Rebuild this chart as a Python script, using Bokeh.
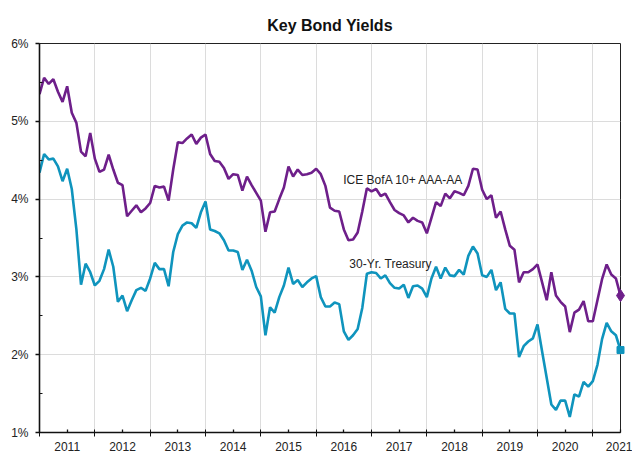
import pandas as pd
from bokeh.plotting import figure
from bokeh.models import FixedTicker, PrintfTickFormatter, Label, Range1d, ColumnDataSource
from bokeh.embed import file_html
from bokeh.resources import INLINE

# Monthly yields (%), Jan 2011 .. Jul 2021
start_month = "2011-01-01"
ice_bofa_10plus_aaa_aa = [
    5.35, 5.56, 5.48, 5.54, 5.38, 5.25, 5.45, 5.11, 4.98, 4.61, 4.55, 4.85,
    4.52, 4.35, 4.38, 4.57, 4.38, 4.21, 4.18, 3.78, 3.85, 3.92, 3.83, 3.88,
    3.95, 4.17, 4.15, 4.16, 3.98, 4.38, 4.73, 4.72, 4.78, 4.83, 4.71, 4.79,
    4.83, 4.58, 4.49, 4.48, 4.40, 4.26, 4.32, 4.31, 4.11, 4.29, 4.18, 4.08,
    3.98, 3.58, 3.83, 3.84, 4.00, 4.15, 4.42, 4.29, 4.38, 4.31, 4.32, 4.34,
    4.39, 4.32, 4.17, 3.89, 3.85, 3.84, 3.61, 3.47, 3.48, 3.57, 3.84, 4.14,
    4.10, 4.13, 4.04, 4.07, 3.96, 3.86, 3.82, 3.79, 3.70, 3.76, 3.72, 3.70,
    3.56, 3.76, 3.96, 3.91, 4.07, 4.01, 4.10, 4.08, 4.05, 4.17, 4.39, 4.38,
    4.12, 4.00, 4.05, 3.76, 3.84, 3.61, 3.40, 3.35, 2.93, 3.06, 3.06, 3.10,
    3.16, 2.93, 2.70, 3.06, 2.76, 2.68, 2.62, 2.29, 2.54, 2.58, 2.69, 2.43,
    2.43, 2.70, 2.97, 3.16, 3.03, 2.98, 2.76,
]
treasury_30yr = [
    4.34, 4.58, 4.51, 4.52, 4.42, 4.23, 4.39, 4.13, 3.61, 2.90, 3.17, 3.06,
    2.89, 2.95, 3.10, 3.35, 3.13, 2.68, 2.76, 2.56, 2.70, 2.83, 2.86, 2.82,
    2.98, 3.18, 3.10, 3.10, 2.88, 3.32, 3.55, 3.66, 3.70, 3.69, 3.63, 3.83,
    3.97, 3.61, 3.59, 3.56, 3.47, 3.34, 3.34, 3.32, 3.09, 3.22, 3.08, 2.87,
    2.75, 2.25, 2.61, 2.54, 2.74, 2.89, 3.12, 2.91, 2.96, 2.87, 2.93, 2.98,
    3.01, 2.74, 2.62, 2.62, 2.67, 2.65, 2.30, 2.19, 2.25, 2.33, 2.60, 3.04,
    3.06, 3.05, 2.98, 3.02, 2.92, 2.86, 2.85, 2.90, 2.73, 2.88, 2.89, 2.85,
    2.74, 2.98, 3.13, 2.98, 3.12, 3.02, 3.01, 3.09, 3.03, 3.27, 3.39, 3.30,
    3.02, 3.00, 3.09, 2.83, 2.93, 2.59, 2.53, 2.53, 1.97, 2.11, 2.17, 2.21,
    2.39, 2.04, 1.70, 1.36, 1.29, 1.41, 1.41, 1.20, 1.49, 1.46, 1.65, 1.59,
    1.66, 1.87, 2.20, 2.41, 2.30, 2.25, 2.06,
]
year_labels = [str(y) for y in range(2011, 2022)]
y_ticks = [1, 2, 3, 4, 5, 6]

PURPLE = "#6e1f8a"
TEAL = "#0f94bd"
TEXT = "#222222"
GRID = "#dcdcdc"

dates = pd.date_range(start_month, periods=len(treasury_30yr), freq="MS")
xs = list(dates.year + (dates.month - 1) / 12.0)
src = ColumnDataSource(dict(x=xs, ice=ice_bofa_10plus_aaa_aa, tsy=treasury_30yr))
last = ColumnDataSource(dict(x=[xs[-1]], ice=[ice_bofa_10plus_aaa_aa[-1]], tsy=[treasury_30yr[-1]]))

p = figure(width=632, height=453, output_backend="svg", toolbar_location=None,
           x_range=Range1d(2011, xs[-1]), y_range=Range1d(1, 6),
           min_border_left=39, min_border_right=12, min_border_top=43, min_border_bottom=19,
           title="Key Bond Yields")
p.title.align = "center"
p.title.text_font = "Liberation Sans"
p.title.text_font_size = "16px"
p.title.text_font_style = "bold"
p.title.text_color = "#111111"
p.title.standoff = 19

p.outline_line_color = "#222222"
p.outline_line_width = 1
p.background_fill_color = "white"
p.border_fill_color = "white"

# x axis: labels at mid-year, crossing ticks at year boundaries
years = list(range(2011, 2022))
mid = [y + 0.5 for y in years]
p.xaxis.ticker = FixedTicker(ticks=mid, minor_ticks=years)
p.xaxis.major_label_overrides = {m: lab for m, lab in zip(mid, year_labels)}
p.xaxis.major_tick_in = 3
p.xaxis.major_tick_out = 0
p.xaxis.minor_tick_in = 3
p.xaxis.minor_tick_out = 4
p.xaxis.major_label_standoff = 5
p.xgrid.ticker = FixedTicker(ticks=years)

p.yaxis.ticker = FixedTicker(ticks=y_ticks, minor_ticks=[t + 0.5 for t in y_ticks[:-1]])
p.yaxis.formatter = PrintfTickFormatter(format="%d%%")
p.yaxis.major_tick_in = 0
p.yaxis.major_tick_out = 4
p.yaxis.minor_tick_in = 3
p.yaxis.minor_tick_out = 0
p.yaxis.major_label_standoff = 7

for ax in (p.xaxis, p.yaxis):
    ax.axis_line_color = "#111111"
    ax.axis_line_width = 1.6
    ax.major_tick_line_color = "#111111"
    ax.minor_tick_line_color = "#111111"
    ax.major_tick_line_width = 1.3
    ax.minor_tick_line_width = 1
    ax.major_label_text_font = "Liberation Sans"
    ax.major_label_text_font_size = "12px"
    ax.major_label_text_color = TEXT

p.grid.grid_line_color = GRID
p.grid.grid_line_width = 1

p.line("x", "ice", source=src, line_color=PURPLE, line_width=2.6)
p.line("x", "tsy", source=src, line_color=TEAL, line_width=2.6)
d = p.scatter("x", "ice", source=last, marker="diamond", size=12, fill_color=PURPLE, line_color=PURPLE)
s = p.scatter("x", "tsy", source=last, marker="square", size=7, fill_color=TEAL, line_color=TEAL)
d.level = "overlay"
s.level = "overlay"

p.add_layout(Label(x=2016.49, y=4.24, text="ICE BofA 10+ AAA-AA", text_baseline="middle",
                   text_font="Liberation Sans", text_font_size="12px", text_color=TEXT))
p.add_layout(Label(x=2016.6, y=3.16, text="30-Yr. Treasury", text_baseline="middle",
                   text_font="Liberation Sans", text_font_size="12px", text_color=TEXT))

open("out.html", "w").write(file_html(p, INLINE))
